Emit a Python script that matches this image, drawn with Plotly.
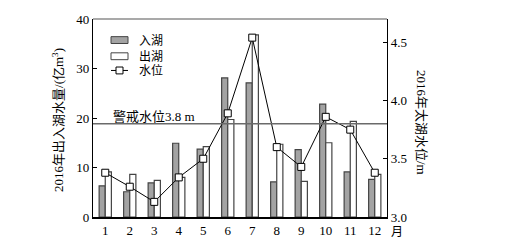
import plotly.graph_objects as go

months = list(range(1, 13))
month_labels = [str(m) for m in months]
inflow = [6.3, 5.1, 6.9, 14.9, 13.7, 28.1, 27.1, 7.1, 13.6, 22.8, 9.1, 7.6]
outflow = [9.1, 8.6, 7.4, 8.0, 14.2, 19.7, 36.8, 14.7, 7.2, 15.0, 19.3, 8.6]
water_level = [3.38, 3.26, 3.13, 3.34, 3.50, 3.89, 4.54, 3.60, 3.43, 3.86, 3.75, 3.38]
warning_level = 3.8
series_names = ["入湖", "出湖", "水位"]

FONT = "Liberation Serif, Noto Sans CJK SC, serif"
W, H = 527, 250
ML, MR, MT, MB = 93, 140, 17, 31
PW, PH = W - ML - MR, H - MT - MB


def px(x):
    return (x - ML) / PW


def py(y):
    return (H - MB - y) / PH


fig = go.Figure()
fig.add_trace(go.Bar(x=months, y=inflow, name=series_names[0],
                     marker=dict(color="#a3a3a3", line=dict(color="#444", width=1.2))))
fig.add_trace(go.Bar(x=months, y=outflow, name=series_names[1],
                     marker=dict(color="white", line=dict(color="#444", width=1.2))))
fig.add_trace(go.Scatter(x=months, y=water_level, name=series_names[2], yaxis="y2",
                         mode="lines+markers",
                         line=dict(color="black", width=1),
                         marker=dict(symbol="square", size=7, color="white",
                                     line=dict(color="black", width=1))))

fig.add_shape(type="line", xref="paper", x0=0, x1=1, yref="y2",
              y0=warning_level, y1=warning_level,
              line=dict(color="#6a6a6a", width=1.5))
fig.add_shape(type="line", xref="paper", x0=0, x1=1, yref="paper", y0=1, y1=1,
              line=dict(color="#555", width=1.2))

# legend (drawn manually for tighter spacing)
fig.add_shape(type="rect", xref="paper", yref="paper",
              x0=px(111), x1=px(128), y0=py(42), y1=py(35),
              fillcolor="#a3a3a3", line=dict(color="#444", width=1))
fig.add_shape(type="rect", xref="paper", yref="paper",
              x0=px(111), x1=px(128), y0=py(58.5), y1=py(51.5),
              fillcolor="white", line=dict(color="#444", width=1))
fig.add_shape(type="line", xref="paper", yref="paper",
              x0=px(111), x1=px(128), y0=py(69.5), y1=py(69.5),
              line=dict(color="black", width=1))
fig.add_shape(type="rect", xref="paper", yref="paper",
              x0=px(116), x1=px(123), y0=py(73), y1=py(66),
              fillcolor="white", line=dict(color="black", width=1))
for name, yy in zip(series_names, [38.5, 55, 69.5]):
    fig.add_annotation(text=name, xref="paper", yref="paper", x=px(137), y=py(yy),
                       xanchor="left", yanchor="middle", showarrow=False,
                       font=dict(family=FONT, size=12, color="black"))

fig.add_annotation(text="警戒水位3.8 m", xref="paper", yref="paper",
                   x=px(111), y=py(116.5), xanchor="left", yanchor="middle",
                   showarrow=False, font=dict(family=FONT, size=13, color="black"))
fig.add_annotation(text="2016年出入湖水量/(亿m<sup>3</sup>)", xref="paper", yref="paper",
                   x=px(58), y=py(120), xanchor="center",
                   yanchor="middle", textangle=-90, showarrow=False,
                   font=dict(family=FONT, size=13, color="black"))
fig.add_annotation(text="2016年太湖水位/m", xref="paper", yref="paper",
                   x=px(421), y=py(122), xanchor="center",
                   yanchor="middle", textangle=90, showarrow=False,
                   font=dict(family=FONT, size=13, color="black"))
fig.add_annotation(text="月", xref="paper", yref="paper",
                   x=px(397), y=py(234.5), xanchor="center",
                   yanchor="middle", showarrow=False,
                   font=dict(family=FONT, size=12, color="black"))

fig.update_layout(
    width=W, height=H,
    margin=dict(l=ML, r=MR, t=MT, b=MB),
    paper_bgcolor="white", plot_bgcolor="white",
    barmode="group", bargap=0.5, bargroupgap=0,
    font=dict(family=FONT, size=13, color="black"),
    showlegend=False,
    xaxis=dict(range=[0.5, 12.5], tickmode="array", tickvals=months,
               ticktext=month_labels, showline=True, linecolor="black",
               linewidth=2, ticks="", showgrid=False, zeroline=False),
    yaxis=dict(range=[0, 40], tickvals=[0, 10, 20, 30, 40], showline=True,
               linecolor="black", linewidth=1.2, ticks="inside", ticklen=4,
               tickcolor="black", showgrid=False, zeroline=False),
    yaxis2=dict(range=[3.0, 4.70], overlaying="y", side="right",
                tickvals=[3.0, 3.5, 4.0, 4.5], tickformat=".1f", showline=True,
                linecolor="black", linewidth=1.2, ticks="inside", ticklen=4,
                tickcolor="black", showgrid=False, zeroline=False),
)

fig.write_html("out.html")
